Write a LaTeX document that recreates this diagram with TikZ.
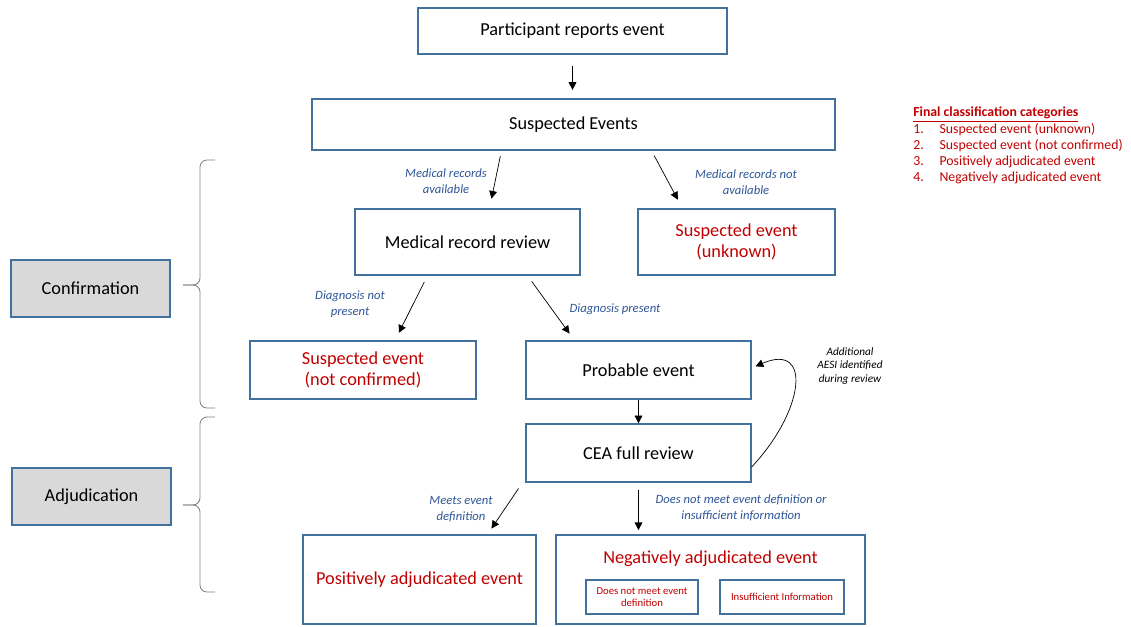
\documentclass[tikz,border=0pt]{standalone}
\usepackage{fontspec}
\setmainfont{Carlito}
\usetikzlibrary{arrows.meta}
\definecolor{boxline}{RGB}{65,113,156}
\definecolor{lblblue}{RGB}{47,85,151}
\definecolor{catred}{RGB}{192,0,0}
\definecolor{sidegray}{RGB}{217,217,217}
\begin{document}
\begin{tikzpicture}[x=0.025cm,y=-0.025cm,
  box/.style={draw=boxline, line width=0.9pt, rectangle, align=center, inner sep=0pt, font=\fontsize{13}{15}\selectfont},
  redbox/.style={box, text=catred, font=\fontsize{13}{15}\selectfont},
  subbox/.style={box, text=catred, font=\fontsize{7.6}{9}\selectfont, minimum height=0.85cm},
  sidebox/.style={box, fill=sidegray, minimum width=3.975cm, minimum height=1.425cm},
  lbl/.style={text=lblblue, align=center, font=\fontsize{9}{11}\selectfont\itshape},
  arr/.style={-{Triangle[length=5.5pt,width=5.5pt]}, line width=0.5pt},
  brc/.style={draw=gray, line width=0.6pt, rounded corners=5pt}]
\useasboundingbox (0,0) rectangle (1131,626);

\node[box, minimum width=7.725cm, minimum height=1.15cm] (report) at (572.5,31) {Participant reports event};
\node[box, minimum width=13.075cm, minimum height=1.275cm] (suspect) at (573.5,124.5) {Suspected Events};

\node[box, minimum width=5.625cm, minimum height=1.65cm] (mrr) at (467.5,242) {Medical record review};
\node[redbox, minimum width=4.925cm, minimum height=1.65cm] (unknown) at (736.5,242) {Suspected event\\(unknown)};

\node[redbox, minimum width=5.65cm, minimum height=1.45cm] (notconf) at (363,370) {Suspected event\\(not confirmed)};
\node[box, minimum width=5.625cm, minimum height=1.45cm] (probable) at (638.5,370) {Probable event};
\node[box, minimum width=5.625cm, minimum height=1.45cm] (cea) at (638.5,453) {CEA full review};

\node[redbox, minimum width=5.825cm, minimum height=2.225cm] (posadj) at (419.5,579.5) {Positively adjudicated event};
\node[box, minimum width=7.725cm, minimum height=2.225cm] (negadj) at (710.5,579.5) {};
\node[text=catred, font=\fontsize{13}{15}\selectfont] (negtitle) at (710.5,559) {Negatively adjudicated event};
\node[subbox, minimum width=2.8cm] (nodef) at (642,597) {Does not meet event\\definition};
\node[subbox, minimum width=3.1cm] (insuff) at (782,597) {Insufficient Information};

\node[sidebox] (confirm) at (90.5,288.5) {Confirmation};
\node[sidebox] (adjud) at (91.5,496.5) {Adjudication};

% braces
\draw[brc] (215,160) -- (200,160) -- (200,285) -- (183,285);
\draw[brc] (183,285) -- (200,285) -- (200,408) -- (215,408);
\draw[brc] (215,417) -- (200,417) -- (200,505) -- (183,505);
\draw[brc] (183,505) -- (200,505) -- (200,592) -- (215,592);

% arrows
\draw[arr] ([yshift=-8pt]report.south) -- ([yshift=6pt]report.south |- suspect.north);
\draw[arr, shorten <=4pt, shorten >=7pt] ([xshift=-1.8cm]suspect.south) -- ([xshift=0.55cm]mrr.north);
\draw[arr, shorten <=4pt, shorten >=7pt] ([xshift=1.95cm]suspect.south) -- ([xshift=-1.35cm]unknown.north);
\draw[arr, shorten <=5pt, shorten >=6pt] ([xshift=-1.0cm]mrr.south) -- ([xshift=0.8cm]notconf.north);
\draw[arr, shorten <=5pt, shorten >=6pt] ([xshift=1.5cm]mrr.south) -- ([xshift=-1.6cm]probable.north);
\draw[arr] (probable) -- (cea);
\draw[arr, shorten <=5pt, shorten >=5pt] ([xshift=-2.9cm]cea.south) -- ([xshift=1.7cm]posadj.north);
\draw[arr, shorten <=5pt, shorten >=3pt] (cea.south) -- (cea.south |- negadj.north);
\draw[arr, shorten >=3pt] ([yshift=-0.35cm]cea.east) .. controls (805,410) and (812,342) .. ([yshift=0.05cm]probable.east);

% branch labels
\node[lbl] (lmra) at (446,181) {Medical records\\available};
\node[lbl] (lmrna) at (746,182) {Medical records not\\available};
\node[lbl] (ldnp) at (350,304) {Diagnosis not\\present};
\node[lbl] (ldp) at (615,309) {Diagnosis present};
\node[lbl] (lmeet) at (461,509) {Meets event\\definition};
\node[lbl] (lnomeet) at (741,508) {Does not meet event definition or\\insufficient information};
\node[align=center, font=\fontsize{8}{9.5}\selectfont\itshape] (laesi) at (850,366) {Additional\\AESI identified\\during review};

% legend
\node[anchor=north west, text=catred, align=left, inner sep=0pt, font=\fontsize{9.8}{11.4}\selectfont] (legend) at (913,107)
{\textbf{\underline{Final classification categories}}\\
1.\hspace{1.15em}Suspected event (unknown)\\
2.\hspace{1.15em}Suspected event (not confirmed)\\
3.\hspace{1.15em}Positively adjudicated event\\
4.\hspace{1.15em}Negatively adjudicated event};
\end{tikzpicture}
\end{document}
